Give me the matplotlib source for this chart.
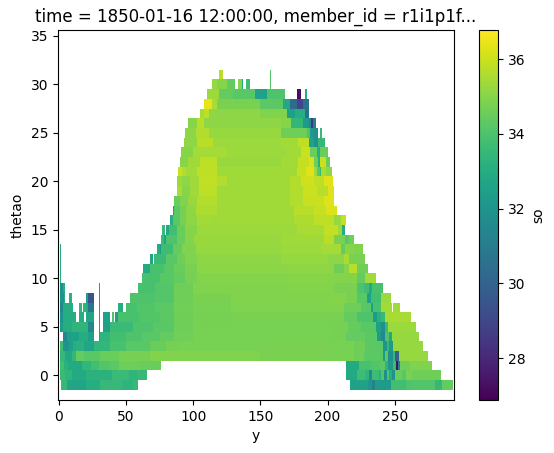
import numpy as np
import matplotlib
matplotlib.use('Agg')
import matplotlib.pyplot as plt

# salinity runs, one list per thetao bin: (first y, stop y, so)
row_m1 = [(2, 6, 33.5), (6, 20, 32.7), (20, 31, 33.0), (31, 47, 33.5), (47, 55, 33.3), (55, 59, 33.5),
          (217, 230, 32.6), (230, 233, 32.1), (233, 235, 31.2), (235, 247, 32.3), (247, 258, 33.8),
          (258, 262, 34.0), (262, 280, 34.1), (280, 285, 33.5), (285, 293, 34.4)]
row_0 = [(1, 5, 33.6), (5, 10, 33.3), (10, 20, 32.9), (20, 40, 33.2), (40, 52, 33.6), (52, 58, 33.3), (58, 66, 33.5),
         (214, 222, 32.9), (222, 228, 33.7), (228, 231, 33.3), (231, 233, 31.6), (233, 238, 33.7),
         (238, 240, 33.2), (240, 242, 34.1), (242, 244, 31.8), (244, 246, 34.0), (246, 248, 33.0),
         (248, 250, 32.0), (250, 255, 34.5), (255, 258, 34.2), (258, 263, 34.8), (263, 284, 34.6)]
row_1 = [(1, 4, 33.8), (4, 7, 33.2), (7, 17, 32.9), (17, 24, 33.4), (24, 30, 33.8), (30, 38, 34.1), (38, 45, 34.3),
         (45, 60, 34.6), (60, 76, 34.5),
         (214, 223, 32.9), (223, 232, 33.9), (232, 239, 34.1), (239, 243, 34.3), (243, 245, 33.3), (245, 249, 32.2),
         (249, 251, 33.6), (251, 252, 27.3), (252, 254, 31.0), (254, 261, 34.6), (261, 278, 34.9)]
row_2 = [(1, 5, 33.5), (5, 10, 32.8), (10, 13, 33.4), (13, 19, 34.4), (19, 31, 34.2), (31, 45, 34.5), (45, 68, 34.7),
         (68, 90, 34.9), (90, 150, 34.85), (150, 202, 34.8), (202, 220, 34.75), (220, 227, 34.6), (227, 239, 34.3),
         (239, 241, 34.2), (241, 243, 32.3), (243, 245, 34.2), (245, 249, 31.8), (249, 250, 33.5), (250, 253, 30.0),
         (253, 275, 35.2)]
row_3 = [(1, 3, 33.7), (3, 8, 32.0), (8, 11, 32.5), (11, 13, 33.0), (13, 19, 33.2), (19, 26, 32.7), (26, 38, 33.4),
         (38, 50, 33.9), (50, 68, 34.2), (68, 80, 34.5), (80, 90, 34.7), (90, 150, 34.75), (150, 202, 34.8),
         (202, 220, 34.75), (220, 228, 34.6), (228, 237, 34.3), (237, 241, 34.2),
         (241, 244, 32.0), (244, 246, 33.5), (246, 249, 32.2), (249, 271, 35.2)]
row_4 = [(3, 6, 31.5), (6, 15, 32.5), (15, 22, 33.0), (22, 26, 32.5), (30, 31, 32.5), (31, 38, 33.3),
         (38, 50, 33.8), (50, 62, 34.0), (62, 75, 34.2), (75, 86, 34.4), (86, 100, 34.65), (100, 202, 34.75),
         (202, 214, 34.7), (214, 228, 34.4), (228, 237, 34.3), (237, 240, 32.3),
         (240, 243, 31.5), (243, 246, 34.0), (246, 248, 32.8), (248, 268, 35.2)]
row_5 = [(1, 3, 32.3), (3, 10, 33.0), (10, 22, 33.3), (22, 26, 31.5), (30, 31, 32.5), (33, 38, 32.5),
         (38, 55, 33.6), (55, 70, 34.0), (70, 86, 34.2), (86, 100, 34.6), (100, 202, 34.75), (202, 215, 34.7),
         (215, 225, 34.45), (225, 236, 34.2), (236, 240, 32.5),
         (240, 243, 31.8), (243, 245, 33.5), (245, 266, 35.3)]
row_6 = [(1, 3, 32.0), (3, 13, 33.0), (15, 19, 33.0), (20, 26, 32.7), (30, 31, 32.5), (33, 38, 32.6), (40, 41, 34.0),
         (42, 44, 32.5), (44, 60, 33.9), (60, 75, 34.1), (75, 86, 34.3), (86, 100, 34.6), (100, 128, 34.7),
         (128, 202, 34.8), (202, 212, 34.8), (212, 222, 34.4), (222, 234, 34.0),
         (234, 237, 32.2), (237, 240, 33.2), (240, 243, 33.5), (243, 262, 35.5)]
row_7 = [(1, 3, 31.5), (3, 11, 33.0), (15, 17, 33.4), (18, 20, 33.3), (20, 22, 33.0), (22, 26, 30.8), (30, 31, 32.5),
         (44, 48, 33.0), (50, 58, 33.9), (58, 72, 34.1), (72, 86, 34.25), (86, 100, 34.65), (100, 128, 34.75),
         (128, 202, 34.85), (202, 212, 34.9), (212, 225, 34.6), (225, 232, 34.2),
         (232, 234, 32.5), (234, 240, 33.9), (240, 248, 35.4), (249, 254, 35.4)]
row_8 = [(1, 4, 32.0), (4, 5, 33.0), (8, 10, 33.2), (20, 22, 32.5), (22, 26, 29.5), (30, 31, 32.5), (53, 72, 34.0),
         (72, 86, 34.15), (86, 100, 34.6), (100, 128, 34.8), (128, 202, 34.9), (202, 214, 34.95), (214, 222, 34.8),
         (222, 229, 34.2), (229, 232, 32.5), (232, 240, 33.8), (240, 247, 35.3)]
row_9 = [(1, 3, 32.0), (3, 5, 33.0), (30, 31, 32.5), (59, 72, 33.9), (72, 86, 34.15), (86, 100, 34.6), (100, 170, 34.9),
         (170, 205, 34.95), (205, 222, 34.8), (222, 227, 34.0), (227, 231, 33.7), (231, 233, 32.8), (233, 241, 33.9)]
row_10 = [(1, 2, 33.0), (62, 75, 33.9), (75, 86, 34.2), (86, 94, 34.4), (94, 103, 34.7), (103, 170, 34.95),
          (170, 205, 35.0), (205, 222, 34.95), (222, 228, 34.4), (228, 236, 35.4)]
row_11 = [(1, 2, 33.0), (63, 68, 32.9), (68, 78, 33.9), (78, 86, 34.2), (86, 94, 34.5), (94, 103, 34.8), (103, 170, 35.05),
          (170, 205, 35.1), (205, 212, 34.6), (212, 216, 35.0), (216, 222, 35.7), (222, 230, 34.6)]
row_12 = [(1, 2, 33.0), (68, 70, 32.7), (71, 80, 33.6), (80, 88, 34.2), (88, 94, 34.6), (94, 103, 34.85), (103, 165, 35.1),
          (165, 200, 35.2), (200, 212, 35.1), (212, 216, 35.5), (216, 228, 34.8)]
row_13 = [(1, 2, 33.0), (73, 75, 33.0), (75, 76, 32.3), (76, 85, 33.7), (85, 92, 34.4), (92, 102, 34.85), (102, 165, 35.2),
          (165, 195, 35.3), (195, 210, 35.45), (210, 213, 34.4), (213, 220, 35.0), (220, 226, 34.9)]
row_14 = [(76, 78, 33.6), (78, 80, 32.5), (80, 88, 34.0), (88, 94, 34.5), (94, 101, 34.95), (101, 165, 35.25),
          (165, 197, 35.35), (197, 205, 35.75), (205, 213, 34.8), (213, 216, 34.2), (216, 220, 34.6)]
row_15 = [(77, 79, 33.5), (80, 82, 32.8), (82, 88, 33.8), (88, 94, 34.5), (94, 103, 35.0), (103, 177, 35.3),
          (177, 197, 35.5), (197, 208, 35.85), (208, 211, 35.3), (211, 213, 33.0)]
row_16 = [(83, 85, 33.0), (85, 90, 34.2), (90, 95, 34.7), (95, 103, 35.1), (103, 115, 35.4), (115, 175, 35.35),
          (175, 190, 35.55), (190, 205, 35.8), (205, 210, 35.2), (210, 214, 35.9)]
row_17 = [(85, 86, 32.5), (86, 90, 34.3), (90, 95, 34.7), (95, 102, 35.1), (102, 118, 35.55), (118, 175, 35.35),
          (175, 190, 35.7), (190, 199, 35.9), (199, 207, 36.2)]
row_18 = [(86, 90, 34.5), (90, 96, 34.9), (96, 103, 35.25), (103, 118, 35.65), (118, 172, 35.35), (172, 182, 35.6),
          (182, 197, 35.95), (197, 205, 36.25)]
row_19 = [(88, 92, 35.5), (92, 98, 35.0), (98, 104, 35.35), (104, 118, 35.8), (118, 172, 35.35), (172, 182, 35.65),
          (182, 192, 36.0), (192, 200, 35.7), (200, 205, 36.3)]
row_20 = [(88, 92, 35.3), (92, 98, 35.1), (98, 104, 35.35), (104, 118, 35.85), (118, 125, 35.6), (125, 172, 35.35),
          (172, 180, 35.65), (180, 190, 36.05), (190, 197, 35.8), (197, 204, 36.3)]
row_21 = [(89, 92, 36.0), (92, 95, 35.6), (95, 103, 35.4), (103, 118, 35.8), (118, 177, 35.35), (177, 184, 35.9),
          (184, 190, 36.3), (190, 192, 35.3), (192, 194, 34.2), (194, 195, 33.5), (195, 199, 35.5), (199, 203, 35.1)]
row_22 = [(90, 96, 35.0), (96, 105, 35.35), (105, 118, 35.8), (118, 165, 35.25), (165, 178, 35.4), (178, 186, 35.9),
          (186, 190, 36.2), (190, 193, 34.6), (193, 194, 33.0), (194, 199, 36.0), (199, 202, 34.5)]
row_23 = [(91, 100, 35.0), (100, 125, 35.45), (125, 170, 35.3), (170, 180, 35.4), (180, 187, 36.0), (187, 192, 34.5),
          (192, 194, 33.0), (194, 200, 34.5)]
row_24 = [(93, 103, 35.1), (103, 115, 35.75), (115, 165, 35.3), (165, 178, 35.4), (178, 186, 35.8), (186, 190, 32.6),
          (190, 193, 31.8), (193, 198, 33.5)]
row_25 = [(94, 102, 35.1), (102, 112, 35.6), (112, 165, 35.2), (165, 185, 34.6), (185, 187, 34.0), (187, 190, 32.2),
          (190, 193, 31.8), (194, 196, 33.5)]
row_26 = [(96, 103, 35.0), (103, 108, 35.7), (108, 165, 35.1), (165, 173, 35.0), (173, 182, 33.4), (182, 186, 32.2),
          (186, 188, 31.5), (188, 189, 28.5), (189, 191, 31.0)]
row_27 = [(105, 108, 35.5), (108, 112, 35.8), (112, 150, 35.1), (150, 170, 34.9), (170, 176, 32.5), (176, 183, 33.0),
          (183, 186, 30.5)]
row_28 = [(108, 114, 36.4), (114, 118, 35.5), (118, 150, 34.8), (150, 167, 34.3), (167, 172, 32.8), (172, 177, 30.3),
          (177, 182, 29.0), (182, 186, 30.5)]
row_29 = [(110, 119, 35.3), (119, 130, 34.4), (130, 146, 34.2), (146, 155, 32.6), (155, 168, 34.0), (177, 180, 27.2),
          (183, 185, 33.0)]
row_30 = [(114, 118, 35.2), (118, 125, 35.0), (125, 131, 34.4), (133, 136, 35.0), (136, 137, 32.8), (139, 142, 33.7),
          (157, 158, 34.2)]
row_31 = [(119, 122, 35.7), (157, 158, 34.2)]

all_rows = [row_m1, row_0, row_1, row_2, row_3, row_4, row_5, row_6, row_7, row_8, row_9, row_10,
            row_11, row_12, row_13, row_14, row_15, row_16, row_17, row_18, row_19, row_20, row_21,
            row_22, row_23, row_24, row_25, row_26, row_27, row_28, row_29, row_30, row_31]

n_y = 295
theta_edges = np.arange(len(all_rows) + 1) - 1.5
y_edges = np.arange(n_y + 1)

so = np.full((len(all_rows), n_y), np.nan)
for i, row in enumerate(all_rows):
    for a, b, v in row:
        so[i, a:b] = v

fig = plt.figure(figsize=(5.54, 4.53), dpi=100)
W, H = 554.0, 453.0
ax = fig.add_axes([58 / W, 1 - 400 / H, 396 / W, 370 / H])
cax = fig.add_axes([479 / W, 1 - 400 / H, 19 / W, 370 / H])

mesh = ax.pcolormesh(y_edges, theta_edges, np.ma.masked_invalid(so), cmap='viridis',
                     vmin=26.88, vmax=36.78, rasterized=True)
ax.set_xlim(-0.5, 294)
ax.set_ylim(-2.55, 35.6)
ax.set_xticks([0, 50, 100, 150, 200, 250])
ax.set_yticks([0, 5, 10, 15, 20, 25, 30, 35])
ax.set_xlabel('y')
ax.set_ylabel('thetao')
ax.set_title('time = 1850-01-16 12:00:00, member_id = r1i1p1f...', fontsize=12)

cb = fig.colorbar(mesh, cax=cax)
cb.set_ticks([28, 30, 32, 34, 36])
cb.set_label('so')

fig.savefig('out.png', dpi=100)
